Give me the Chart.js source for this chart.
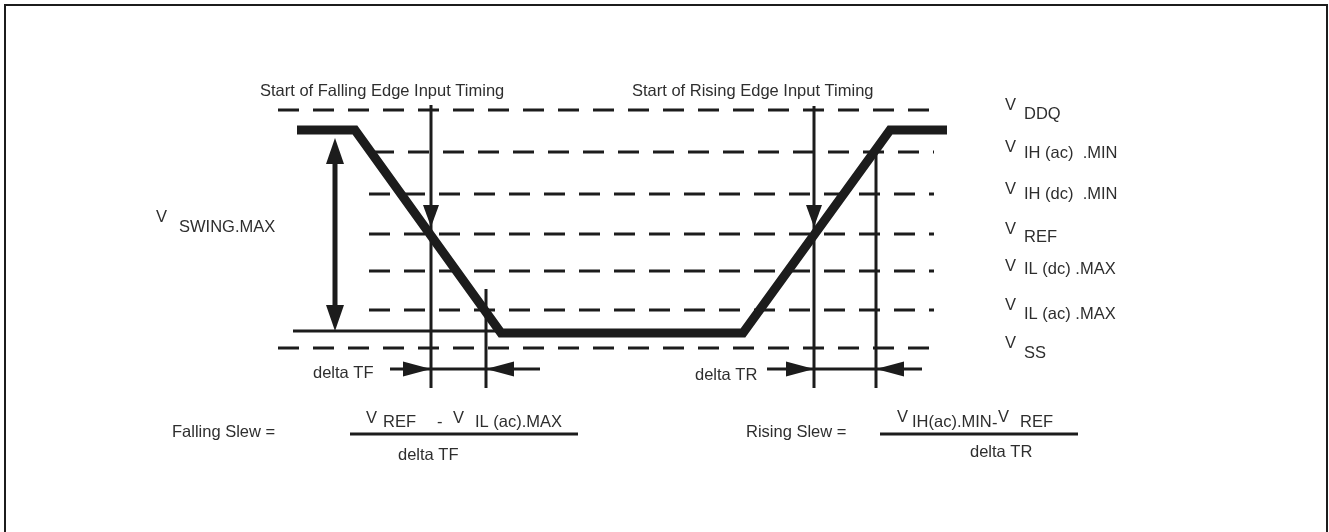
<!DOCTYPE html>
<html>
<head>
<meta charset="utf-8">
<script src="https://cdn.jsdelivr.net/npm/chart.js@4.4.1/dist/chart.umd.min.js"></script>
<style>
  html, body { margin: 0; padding: 0; background: #fff; }
  #wrap { width: 1329px; height: 532px; }
</style>
</head>
<body>
<div id="wrap"><canvas id="slewChart" width="1329" height="532"></canvas></div>
<script>
// Voltage levels (units above VSS) and where each dashed line starts / ends (time units)
const levelNames = ['DDQ', 'IH (ac)  .MIN', 'IH (dc)  .MIN', 'REF', 'IL (dc) .MAX', 'IL (ac) .MAX', 'SS'];
const levelValues = [238, 196, 154, 114, 77, 38, 0];
const levelStart = [278, 373, 369, 369, 369, 369, 278];
const levelEnd = 934;
const subShift = [9, 6, 5, 8, 3, 9, 10];

// Input signal
const signalTimes = [297, 355, 501, 743, 890, 947];
const signalLevels = [218, 218, 15, 15, 218, 218];

// Timing marks: [crossing of VREF, crossing of the ac level]
const fallMarks = [431, 486];
const riseMarks = [814, 876];
const markTop = [243, 59, 242, 195];
const markBottom = -40;

// V swing arrow and reference line
const swingTime = 335;
const swingTop = 210;
const swingBottom = 17;
const refLine = [293, 501];

// delta dimension lines
const deltaLevel = -21;
const deltaTF = [390, 540];
const deltaTR = [767, 922];

// Slew formula bars
const fracLevel = -86;
const fallFrac = [350, 578];
const riseFrac = [880, 1078];

const INK = '#1c1c1c';
const TXT = '#2e2e2e';
const FONT = '"Liberation Sans", Arial, Helvetica, sans-serif';

function seg(x1, y1, x2, y2) {
    return [{ x: x1, y: y1 }, { x: x2, y: y2 }];
}

function lineSet(data, width, extra) {
    return Object.assign({
        data: data,
        showLine: true,
        borderColor: INK,
        borderWidth: width,
        pointRadius: 0,
        tension: 0,
        fill: false,
        borderCapStyle: 'butt',
        clip: false,
        order: 2
    }, extra || {});
}

function buildDatasets() {
    const sets = [];

    // frame (open at the bottom)
    sets.push(lineSet([{ x: 5, y: -184 }, { x: 5, y: 343 }, { x: 1327, y: 343 }, { x: 1327, y: -184 }], 2));

    levelValues.forEach((v, i) => {
        sets.push(lineSet(seg(levelStart[i], v, levelEnd, v), 3, { borderDash: [21, 14] }));
    });

    const signal = signalTimes.map((t, i) => ({ x: t, y: signalLevels[i] }));
    sets.push(lineSet(signal, 9, { borderJoinStyle: 'miter', order: 0 }));

    const marks = fallMarks.concat(riseMarks);
    marks.forEach((t, i) => {
        sets.push(lineSet(seg(t, markTop[i], t, markBottom), 3, { order: 1 }));
    });

    sets.push(lineSet(seg(swingTime, swingTop - 10, swingTime, swingBottom + 10), 5));
    sets.push(lineSet(seg(refLine[0], swingBottom, refLine[1], swingBottom), 3));

    sets.push(lineSet(seg(deltaTF[0], deltaLevel, deltaTF[1], deltaLevel), 3));
    sets.push(lineSet(seg(deltaTR[0], deltaLevel, deltaTR[1], deltaLevel), 3));

    sets.push(lineSet(seg(fallFrac[0], fracLevel, fallFrac[1], fracLevel), 3));
    sets.push(lineSet(seg(riseFrac[0], fracLevel, riseFrac[1], fracLevel), 3));

    return sets;
}

// Arrow heads: tip position, direction, length, half width
const arrowHeads = [
    { t: fallMarks[0], v: 121, dir: 'down', len: 22, half: 8 },
    { t: riseMarks[0], v: 121, dir: 'down', len: 22, half: 8 },
    { t: swingTime, v: swingTop, dir: 'up', len: 26, half: 9 },
    { t: swingTime, v: swingBottom, dir: 'down', len: 26, half: 9 },
    { t: fallMarks[0], v: deltaLevel, dir: 'right', len: 28, half: 7.5 },
    { t: fallMarks[1], v: deltaLevel, dir: 'left', len: 28, half: 7.5 },
    { t: riseMarks[0], v: deltaLevel, dir: 'right', len: 28, half: 7.5 },
    { t: riseMarks[1], v: deltaLevel, dir: 'left', len: 28, half: 7.5 }
];

const arrowPlugin = {
    id: 'arrowHeads',
    afterDatasetsDraw(chart) {
        const ctx = chart.ctx;
        const xs = chart.scales.x, ys = chart.scales.y;
        ctx.save();
        ctx.fillStyle = INK;
        arrowHeads.forEach(a => {
            const x = xs.getPixelForValue(a.t);
            const y = ys.getPixelForValue(a.v);
            ctx.beginPath();
            ctx.moveTo(x, y);
            if (a.dir === 'down') {
                ctx.lineTo(x - a.half, y - a.len);
                ctx.lineTo(x + a.half, y - a.len);
            } else if (a.dir === 'up') {
                ctx.lineTo(x - a.half, y + a.len);
                ctx.lineTo(x + a.half, y + a.len);
            } else if (a.dir === 'right') {
                ctx.lineTo(x - a.len, y - a.half);
                ctx.lineTo(x - a.len, y + a.half);
            } else {
                ctx.lineTo(x + a.len, y - a.half);
                ctx.lineTo(x + a.len, y + a.half);
            }
            ctx.closePath();
            ctx.fill();
        });
        ctx.restore();
    }
};

// Text labels (left aligned, baseline at v)
const labels = [
    { text: 'Start of Falling Edge Input Timing', t: 260, v: 252 },
    { text: 'Start of Rising Edge Input Timing', t: 632, v: 252 },
    { text: 'V', t: 156, v: 126 },
    { text: 'SWING.MAX', t: 179, v: 116 },
    { text: 'delta TF', t: 313, v: -30 },
    { text: 'delta TR', t: 695, v: -32 },
    { text: 'Falling Slew =', t: 172, v: -89 },
    { text: 'Rising Slew =', t: 746, v: -89 },
    { text: 'V', t: 366, v: -75 },
    { text: 'REF', t: 383, v: -79 },
    { text: '-', t: 437, v: -79 },
    { text: 'V', t: 453, v: -75 },
    { text: 'IL (ac).MAX', t: 475, v: -79 },
    { text: 'delta TF', t: 398, v: -112 },
    { text: 'V', t: 897, v: -74 },
    { text: 'IH(ac).MIN', t: 912, v: -79 },
    { text: '-', t: 992, v: -80 },
    { text: 'V', t: 998, v: -74 },
    { text: 'REF', t: 1020, v: -79 },
    { text: 'delta TR', t: 970, v: -109 }
];

levelNames.forEach((name, i) => {
    labels.push({ text: 'V', t: 1005, v: levelValues[i] });
    labels.push({ text: name, t: 1024, v: levelValues[i] - subShift[i] });
});

const textPlugin = {
    id: 'diagramText',
    afterDatasetsDraw(chart) {
        const ctx = chart.ctx;
        const xs = chart.scales.x, ys = chart.scales.y;
        ctx.save();
        ctx.fillStyle = TXT;
        ctx.font = '16.5px ' + FONT;
        ctx.textAlign = 'left';
        ctx.textBaseline = 'alphabetic';
        labels.forEach(l => {
            ctx.fillText(l.text, xs.getPixelForValue(l.t), ys.getPixelForValue(l.v));
        });
        ctx.restore();
    }
};

function renderDiagram() {
    const ctx = document.getElementById('slewChart');
    window.slewChart = new Chart(ctx, {
        type: 'scatter',
        data: { datasets: buildDatasets() },
        options: {
            responsive: false,
            animation: false,
            devicePixelRatio: 1,
            events: [],
            layout: { padding: 0 },
            plugins: {
                legend: { display: false },
                tooltip: { enabled: false }
            },
            scales: {
                x: { type: 'linear', min: 0, max: 1329, display: false },
                y: { type: 'linear', min: -184, max: 348, display: false }
            }
        },
        plugins: [arrowPlugin, textPlugin]
    });
}

renderDiagram();
</script>
</body>
</html>
